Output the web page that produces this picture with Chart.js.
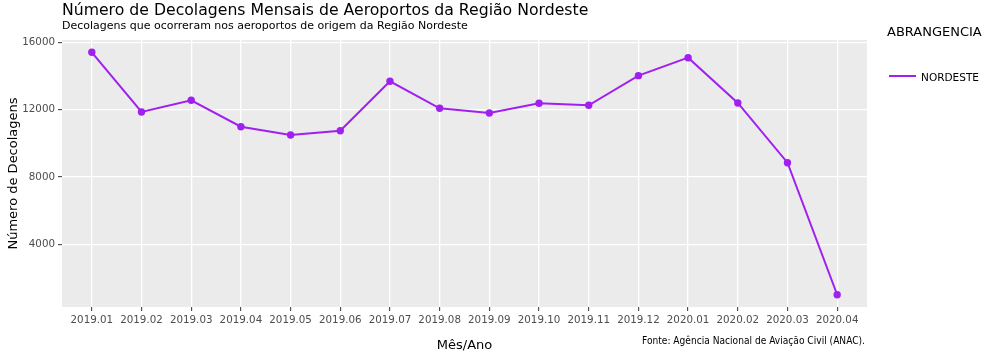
<!DOCTYPE html>
<html>
<head>
<meta charset="utf-8">
<script src="https://cdn.jsdelivr.net/npm/chart.js@4/dist/chart.umd.min.js"></script>
<style>
  html, body { margin: 0; padding: 0; background: #ffffff; }
  #wrap { width: 992px; height: 357px; }
</style>
</head>
<body>
<div id="wrap"><canvas id="c" width="992" height="357"></canvas></div>
<script>
// ---- data ----
const months = ["2019.01","2019.02","2019.03","2019.04","2019.05","2019.06","2019.07","2019.08",
                "2019.09","2019.10","2019.11","2019.12","2020.01","2020.02","2020.03","2020.04"];
const decolagens = [15400, 11855, 12550, 10983, 10490, 10745, 13678, 12075,
                    11796, 12372, 12253, 14011, 15079, 12390, 8845, 1007];
const yTicks = [4000, 8000, 12000, 16000];
const seriesName = "NORDESTE";
const legendTitle = "ABRANGENCIA";
const titleText = "Número de Decolagens Mensais de Aeroportos da Região Nordeste";
const subtitleText = "Decolagens que ocorreram nos aeroportos de origem da Região Nordeste";
const xTitle = "Mês/Ano";
const yTitle = "Número de Decolagens";
const sourceText = "Fonte: Agência Nacional de Aviação Civil (ANAC).";

const FONT = "'DejaVu Sans', sans-serif";
const LINE_COLOR = "#A020F0";
Chart.defaults.font.family = FONT;

const panelBg = {
  id: 'panelBg',
  beforeDraw(chart) {
    const {ctx, chartArea: a} = chart;
    ctx.save();
    ctx.fillStyle = '#EBEBEB';
    ctx.fillRect(a.left, a.top, a.right - a.left, a.bottom - a.top);
    ctx.restore();
  }
};

const extras = {
  id: 'extras',
  afterDraw(chart) {
    const {ctx, chartArea: a} = chart;
    ctx.save();
    // legend
    ctx.fillStyle = '#000';
    ctx.textBaseline = 'alphabetic';
    ctx.textAlign = 'left';
    ctx.font = "13px " + FONT;
    ctx.fillText(legendTitle, 887, 36, 96);
    const ds = chart.data.datasets[0];
    ctx.strokeStyle = ds.borderColor;
    ctx.lineWidth = 2;
    ctx.beginPath();
    ctx.moveTo(889, 76);
    ctx.lineTo(916, 76);
    ctx.stroke();
    ctx.font = "11px " + FONT;
    ctx.fillText(ds.label, 921, 80.5, 58);
    // source caption
    ctx.font = "10px " + FONT;
    ctx.textAlign = 'right';
    ctx.fillText(sourceText, a.right - 2, 343.5, 223);
    ctx.restore();
  }
};

new Chart(document.getElementById('c'), {
  type: 'line',
  data: {
    datasets: [{
      label: seriesName,
      data: decolagens.map((v, i) => ({x: i, y: v})),
      borderColor: LINE_COLOR,
      backgroundColor: LINE_COLOR,
      borderWidth: 2,
      pointRadius: 3.7,
      pointBorderWidth: 0,
      pointBackgroundColor: LINE_COLOR,
      pointHoverRadius: 3.7,
      tension: 0,
      fill: false
    }]
  },
  options: {
    responsive: false,
    animation: false,
    events: [],
    layout: { padding: { left: 0, right: 125, top: 0, bottom: 0 } },
    plugins: {
      legend: { display: false },
      tooltip: { enabled: false },
      title: {
        display: true,
        text: titleText,
        align: 'start',
        fullSize: false,
        color: '#000',
        font: { family: FONT, size: 15.7, weight: 'normal', lineHeight: 1.1 },
        padding: { top: 2.7, bottom: 0 }
      },
      subtitle: {
        display: true,
        text: subtitleText,
        align: 'start',
        fullSize: false,
        color: '#000',
        font: { family: FONT, size: 11, weight: 'normal', lineHeight: 1.2 },
        padding: { top: 0, bottom: 6.8 }
      }
    },
    scales: {
      x: {
        type: 'linear',
        min: -0.6,
        max: 15.6,
        afterFit(scale) { scale.height = 50; },
        afterBuildTicks(scale) { scale.ticks = months.map((m, i) => ({value: i})); },
        ticks: {
          color: '#4D4D4D',
          font: { size: 10.3 },
          padding: 3,
          maxRotation: 0,
          autoSkip: false,
          callback: (v) => months[v]
        },
        grid: { color: '#FFFFFF', lineWidth: 1.3, tickColor: '#333333', tickWidth: 1, tickLength: 4, drawTicks: true },
        border: { display: false },
        title: {
          display: true,
          text: xTitle,
          color: '#000',
          font: { size: 13 },
          padding: { top: 0, bottom: 3.8 }
        }
      },
      y: {
        type: 'linear',
        min: 280,
        max: 16130,
        afterFit(scale) { scale.width = 62; },
        afterBuildTicks(scale) { scale.ticks = yTicks.map(v => ({value: v})); },
        ticks: {
          color: '#4D4D4D',
          font: { size: 10.3 },
          padding: 3,
          callback: (v) => String(v)
        },
        grid: { color: '#FFFFFF', lineWidth: 1.3, tickColor: '#333333', tickWidth: 1, tickLength: 4, drawTicks: true },
        border: { display: false },
        title: {
          display: true,
          text: yTitle,
          color: '#000',
          font: { size: 13 },
          padding: { top: 6, bottom: 0 }
        }
      }
    }
  },
  plugins: [panelBg, extras]
});
</script>
</body>
</html>
